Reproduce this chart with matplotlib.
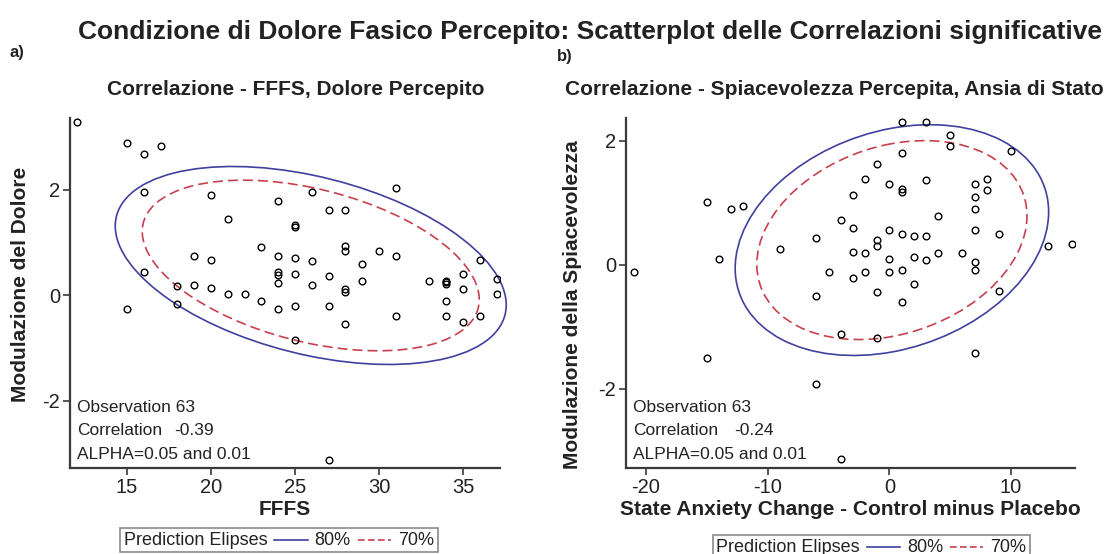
import numpy as np
import matplotlib
matplotlib.use("Agg")
import matplotlib.pyplot as plt
from matplotlib.patches import Ellipse
from matplotlib.lines import Line2D
from matplotlib.offsetbox import TextArea, DrawingArea, HPacker, AnchoredOffsetbox

# ---- data -------------------------------------------------------------
fffs = [12, 15, 16, 17, 16, 20, 16, 15, 18, 18, 19, 19, 20, 20, 21, 21, 22,
        23, 23, 24, 24, 24, 24, 24, 24, 25, 25, 25, 25, 25, 25, 26, 26, 26,
        27, 27, 27, 27, 28, 28, 28, 28, 28, 28, 29, 29, 30, 31, 31, 31, 33,
        34, 34, 34, 34, 35, 35, 35, 36, 36, 37, 37, 34]
dolore = [3.29, 2.88, 2.68, 2.83, 1.96, 1.90, 0.44, -0.27, 0.18, -0.17, 0.74,
          0.20, 0.66, 0.14, 1.45, 0.03, 0.03, 0.91, -0.11, 1.79, 0.74, 0.44,
          0.39, 0.23, -0.26, 1.33, 1.29, 0.70, 0.41, -0.20, -0.86, 1.96, 0.64,
          0.20, 1.61, 0.36, -0.20, -3.12, 1.62, 0.94, 0.84, 0.11, 0.05, -0.55,
          0.59, 0.27, 0.83, 2.04, 0.74, -0.39, 0.27, 0.27, 0.21, -0.11, -0.39,
          0.40, 0.12, -0.51, 0.66, -0.39, 0.30, 0.03, 0.25]

ansia = [-21, -15, -15, -14, -13, -12, -9, -6, -6, -6, -5, -4, -4, -4, -3, -3,
         -3, -3, -2, -2, -2, -1, -1, -1, -1, -1, 0, 0, 0, 0, 1, 1, 1, 1, 1, 1,
         1, 2, 2, 2, 3, 3, 3, 3, 4, 4, 5, 5, 6, 7, 7, 7, 7, 7, 7, 7, 8, 8, 9,
         9, 10, 13, 15]
spiacevolezza = [-0.12, 1.01, -1.51, 0.09, 0.90, 0.95, 0.25, 0.44, -0.51,
                 -1.93, -0.12, 0.72, -1.11, -3.14, 1.13, 0.59, 0.20, -0.21,
                 1.39, 0.19, -0.12, 1.63, 0.40, 0.30, -0.44, -1.18, 1.30,
                 0.57, 0.09, -0.12, 2.30, 1.80, 1.22, 1.17, 0.50, -0.09,
                 -0.60, 0.46, 0.12, -0.31, 2.30, 1.37, 0.46, 0.08, 0.79, 0.19,
                 2.10, 1.92, 0.19, 1.30, 1.10, 0.90, 0.57, 0.04, -0.09, -1.42,
                 1.39, 1.21, 0.50, -0.42, 1.83, 0.30, 0.33]

levels = [0.80, 0.70]
level_labels = ["80%", "70%"]

BLUE = "#40409f"
RED = "#c8404e"
INK = "#222222"
SPINE = "#3a3a3a"

SANS = ["Liberation Sans", "DejaVu Sans"]


def prediction_ellipse(x, y, p, **kw):
    """Bivariate normal prediction ellipse at coverage p."""
    x = np.asarray(x, float)
    y = np.asarray(y, float)
    n = len(x)
    cov = np.cov(x, y)
    m = n - 2
    # F(2, m) quantile has a closed form
    fq = (m / 2.0) * ((1.0 - p) ** (-2.0 / m) - 1.0)
    c = 2.0 * (n + 1) * (n - 1) / (n * (n - 2)) * fq
    vals, vecs = np.linalg.eigh(cov)
    order = vals.argsort()[::-1]
    vals, vecs = vals[order], vecs[:, order]
    angle = np.degrees(np.arctan2(vecs[1, 0], vecs[0, 0]))
    w, h = 2 * np.sqrt(c * vals)
    return Ellipse((x.mean(), y.mean()), w, h, angle=angle, fill=False,
                   clip_on=False, **kw)


def style_axes(ax):
    for s in ("top", "right"):
        ax.spines[s].set_visible(False)
    for s in ("left", "bottom"):
        ax.spines[s].set_color(SPINE)
        ax.spines[s].set_linewidth(1.6)
    ax.tick_params(direction="out", length=5, width=1.2, color=SPINE,
                   labelsize=14.5, labelcolor=INK, pad=2)
    for lab in ax.get_xticklabels() + ax.get_yticklabels():
        lab.set_family(SANS)


def panel(ax, x, y, xlim, ylim, xticks, yticks, xlabel, ylabel, corr,
          ylabel_xy):
    ax.plot(x, y, linestyle="none", marker="o", ms=4.8, mfc="none",
            mec="black", mew=1.0, zorder=3)
    ax.add_patch(prediction_ellipse(x, y, levels[0], ec=BLUE, lw=1.2))
    ax.add_patch(prediction_ellipse(x, y, levels[1], ec=RED, lw=1.2,
                                    ls=(0, (6, 3))))
    ax.set_xlim(*xlim)
    ax.set_ylim(*ylim)
    ax.set_xticks(xticks)
    ax.set_yticks(yticks)
    ax.set_xticklabels([str(t) for t in xticks])
    ax.set_yticklabels([str(t) for t in yticks])
    style_axes(ax)
    ax.set_xlabel(xlabel, fontsize=15, fontweight="bold", family=SANS,
                  color=INK, labelpad=2)
    ax.set_ylabel(ylabel, fontsize=15, fontweight="bold", family=SANS,
                  color=INK, va="center")
    ax.yaxis.set_label_coords(*ylabel_xy)
    kw = dict(transform=ax.transAxes, fontsize=12.5, family=SANS, color=INK,
              va="center", ha="left")
    ax.text(0.016, 0.174, f"Observation {len(x)}", **kw)
    ax.text(0.016, 0.106, "Correlation", **kw)
    ax.text(0.242, 0.106, corr, **kw)
    ax.text(0.016, 0.040, "ALPHA=0.05 and 0.01", **kw)


def legend_box(fig, cx, cy):
    items = [TextArea("Prediction Elipses",
                      textprops=dict(fontsize=13, family=SANS, color=INK))]
    for col, ls, lab in ((BLUE, "-", level_labels[0]),
                         (RED, (0, (4, 2)), level_labels[1])):
        da = DrawingArea(26, 10, 0, 0)
        da.add_artist(Line2D([1, 25], [5, 5], color=col, lw=1.2, ls=ls))
        items.append(da)
        items.append(TextArea(lab, textprops=dict(fontsize=13, family=SANS,
                                                   color=INK)))
    box = HPacker(children=items, align="center", pad=0, sep=4)
    anchored = AnchoredOffsetbox(loc="center", child=box, pad=0.25,
                                 borderpad=0, frameon=True,
                                 bbox_to_anchor=(cx, cy),
                                 bbox_transform=fig.transFigure)
    anchored.patch.set_edgecolor("#8a8a8a")
    anchored.patch.set_linewidth(1.2)
    fig.add_artist(anchored)


fig = plt.figure(figsize=(11.07, 5.54), dpi=100)
ax1 = fig.add_axes([0.0632, 0.1552, 0.3885, 0.6318])
ax2 = fig.add_axes([0.5655, 0.1552, 0.4056, 0.6318])

panel(ax1, fffs, dolore, (11.61, 37.2), (-3.28, 3.36), [15, 20, 25, 30, 35],
      [-2, 0, 2], "FFFS", "Modulazione del Dolore", "-0.39", (-0.115, 0.526))
panel(ax2, ansia, spiacevolezza, (-21.64, 15.25), (-3.28, 2.37),
      [-20, -10, 0, 10], [-2, 0, 2],
      "State Anxiety Change - Control minus Placebo",
      "Modulazione della Spiacevolezza", "-0.24", (-0.12, 0.466))

title_kw = dict(ha="center", va="center", fontweight="bold", family=SANS,
                color=INK)
fig.text(0.533, 0.942,
         "Condizione di Dolore Fasico Percepito: Scatterplot delle "
         "Correlazioni significative", fontsize=19, **title_kw)
fig.text(0.2674, 0.839, "Correlazione - FFFS, Dolore Percepito",
         fontsize=15, **title_kw)
fig.text(0.754, 0.839, "Correlazione - Spiacevolezza Percepita, Ansia di Stato",
         fontsize=15, **title_kw)
fig.text(0.009, 0.905, "a)", ha="left", va="center", fontsize=12,
         fontweight="bold", family=SANS, color=INK)
fig.text(0.503, 0.898, "b)", ha="left", va="center", fontsize=12,
         fontweight="bold", family=SANS, color=INK)

legend_box(fig, 0.252, 0.025)
legend_box(fig, 0.787, 0.012)

fig.savefig("out.png", dpi=100, facecolor="white")
